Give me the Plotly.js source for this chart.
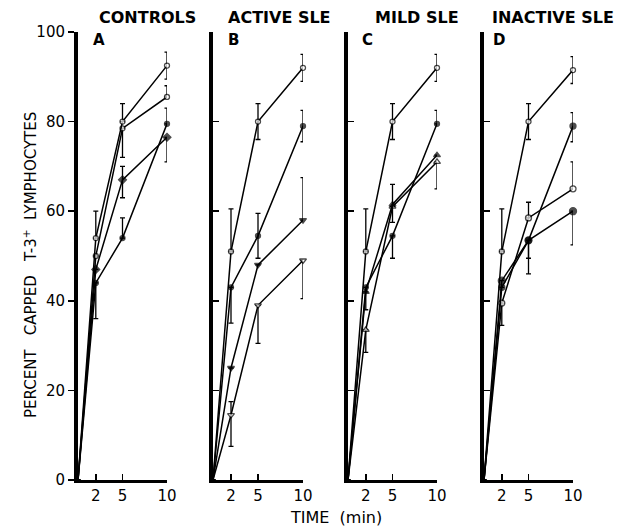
<!DOCTYPE html>
<html>
<head>
<meta charset="utf-8">
<script src="https://cdn.plot.ly/plotly-3.0.1.min.js"></script>
<style>
html,body{margin:0;padding:0;background:#fff;}
#chart{width:619px;height:526px;}
</style>
</head>
<body>
<div id="chart"></div>
<script>
// ---- data ----
const times = [0, 2, 5, 10];
const xTickVals = [2, 5, 10];
const xTickText = ['2', '5', '10'];
const yTickVals = [0, 20, 40, 60, 80, 100];
const yTickText = ['0', '20', '40', '60', '80', '100'];
const panelTitles = ['CONTROLS', 'ACTIVE SLE', 'MILD SLE', 'INACTIVE SLE'];
const panelLetters = ['A', 'B', 'C', 'D'];

// Panel A: controls
const aOpen1 = [0, 54, 80, 92.5];
const aOpen1Up = [0, 6, 4, 3];
const aOpen1Dn = [0, 0, 0, 3];
const aOpen2 = [0, 50, 78.5, 85.5];
const aOpen2Up = [0, 0, 0, 2.5];
const aOpen2Dn = [0, 0, 6.5, 0];
const aDiam = [0, 47, 67, 76.5];
const aDiamUp = [0, 0, 3, 0];
const aDiamDn = [0, 0, 4, 5.5];
const aFill = [0, 44, 54, 79.5];
const aFillUp = [0, 0, 4.5, 3.5];
const aFillDn = [0, 8, 0, 0];

// Panel B: active SLE
const bOpen = [0, 51, 80, 92];
const bOpenUp = [0, 9.5, 4, 3];
const bOpenDn = [0, 0, 4, 3];
const bFill = [0, 43, 54.5, 79];
const bFillUp = [0, 0, 5, 3.5];
const bFillDn = [0, 8, 5, 3.5];
const bTri = [0, 25, 48, 58];
const bTriUp = [0, 0, 0, 9.5];
const bTriDn = [0, 0, 0, 0];
const bTriOpen = [0, 14.5, 39, 49];
const bTriOpenUp = [0, 3, 0, 0];
const bTriOpenDn = [0, 7, 8.5, 8.5];

// Panel C: mild SLE
const cOpen = [0, 51, 80, 92];
const cOpenUp = [0, 9.5, 4, 3];
const cOpenDn = [0, 0, 4, 3];
const cFill = [0, 43, 54.5, 79.5];
const cFillUp = [0, 0, 0, 3];
const cFillDn = [0, 5, 5, 0];
const cTri = [0, 42, 61.5, 72.5];
const cTriUp = [0, 0, 4.5, 0];
const cTriDn = [0, 0, 4, 0];
const cTriOpen = [0, 33.5, 61, 71];
const cTriOpenUp = [0, 0, 0, 0];
const cTriOpenDn = [0, 5, 0, 6];

// Panel D: inactive SLE
const dOpen = [0, 51, 80, 91.5];
const dOpenUp = [0, 9.5, 4, 3];
const dOpenDn = [0, 0, 4, 3];
const dFill = [0, 43, 53.5, 79];
const dFillUp = [0, 0, 0, 3];
const dFillDn = [0, 0, 4, 3.5];
const dOpen2 = [0, 39.5, 58.5, 65];
const dOpen2Up = [0, 0, 3.5, 6];
const dOpen2Dn = [0, 5, 0, 0];
const dFillBig = [0, 44.5, 53.5, 60];
const dFillBigUp = [0, 0, 0, 0];
const dFillBigDn = [0, 0, 7.5, 7.5];

// ---- build ----
function mk(axisIdx, y, up, dn, symbol, open, size) {
  const sfx = axisIdx === 1 ? '' : String(axisIdx);
  return {
    type: 'scatter', mode: 'lines+markers',
    x: times, y: y,
    xaxis: 'x' + sfx, yaxis: 'y' + sfx,
    line: {color: '#000', width: 1.5},
    marker: {
      symbol: symbol,
      size: times.map((t) => t === 0 ? 0 : size),
      color: open ? '#fff' : '#000',
      line: {color: '#000', width: 1.3}
    },
    error_y: {type: 'data', symmetric: false, array: up, arrayminus: dn,
              color: '#000', thickness: 1.3, width: 2.5},
    cliponaxis: false,
    showlegend: false, hoverinfo: 'skip'
  };
}

const traces = [
  mk(1, aFill, aFillUp, aFillDn, 'circle', false, 5),
  mk(1, aDiam, aDiamUp, aDiamDn, 'diamond', false, 6),
  mk(1, aOpen2, aOpen2Up, aOpen2Dn, 'circle', true, 5),
  mk(1, aOpen1, aOpen1Up, aOpen1Dn, 'circle', true, 5),

  mk(2, bTriOpen, bTriOpenUp, bTriOpenDn, 'triangle-down', true, 6),
  mk(2, bTri, bTriUp, bTriDn, 'triangle-down', false, 6),
  mk(2, bFill, bFillUp, bFillDn, 'circle', false, 5),
  mk(2, bOpen, bOpenUp, bOpenDn, 'circle', true, 5),

  mk(3, cTriOpen, cTriOpenUp, cTriOpenDn, 'triangle-up', true, 6),
  mk(3, cTri, cTriUp, cTriDn, 'triangle-up', false, 6),
  mk(3, cFill, cFillUp, cFillDn, 'circle', false, 5),
  mk(3, cOpen, cOpenUp, cOpenDn, 'circle', true, 5),

  mk(4, dFillBig, dFillBigUp, dFillBigDn, 'circle', false, 7),
  mk(4, dOpen2, dOpen2Up, dOpen2Dn, 'circle', true, 6),
  mk(4, dFill, dFillUp, dFillDn, 'circle', false, 6),
  mk(4, dOpen, dOpenUp, dOpenDn, 'circle', true, 5)
];

const W = 619, H = 526;
const panelX = [[78, 167], [213, 303], [348, 437], [484, 573]];
const yTop = 32, yBot = 480;
const yDomain = [(H - yBot) / H, (H - yTop) / H];
const tickFont = {family: 'DejaVu Sans, sans-serif', size: 15, color: '#000'};

const layout = {
  width: W, height: H,
  margin: {l: 0, r: 0, t: 0, b: 0},
  paper_bgcolor: '#fff', plot_bgcolor: 'rgba(0,0,0,0)',
  showlegend: false,
  annotations: []
};

panelX.forEach((px, i) => {
  const sfx = i === 0 ? '' : String(i + 1);
  layout['xaxis' + sfx] = {
    domain: [px[0] / W, px[1] / W], range: [0, 10],
    anchor: 'y' + sfx,
    showline: true, linecolor: '#000', linewidth: 3,
    showgrid: false, zeroline: false,
    ticks: 'inside', ticklen: 6, tickwidth: 1.5, tickcolor: '#000',
    tickvals: xTickVals, ticktext: xTickText,
    tickfont: tickFont, fixedrange: true
  };
  layout['yaxis' + sfx] = {
    domain: yDomain, range: [0, 100],
    anchor: 'x' + sfx,
    showline: true, linecolor: '#000', linewidth: 4,
    showgrid: false, zeroline: false,
    ticks: i === 0 ? 'outside' : 'inside', ticklen: 6, tickwidth: 1.5, tickcolor: '#000',
    tickvals: yTickVals, ticktext: yTickText,
    showticklabels: i === 0,
    tickfont: tickFont, fixedrange: true
  };
});

const titleCenters = [147, 279, 417, 553];
const letterCenters = [99, 233, 367, 499];
panelTitles.forEach((t, i) => {
  layout.annotations.push({
    text: '<b>' + t + '</b>', xref: 'paper', yref: 'paper',
    x: titleCenters[i] / W, y: (H - 18) / H, xanchor: 'center', yanchor: 'middle',
    showarrow: false, font: {family: 'DejaVu Sans, sans-serif', size: 16, color: '#000'}
  });
  layout.annotations.push({
    text: '<b>' + panelLetters[i] + '</b>', xref: 'paper', yref: 'paper',
    x: letterCenters[i] / W, y: (H - 40) / H, xanchor: 'center', yanchor: 'middle',
    showarrow: false, font: {family: 'DejaVu Sans, sans-serif', size: 15, color: '#000'}
  });
});
layout.annotations.push({
  text: 'TIME  (min)', xref: 'paper', yref: 'paper',
  x: 336 / W, y: (H - 517) / H, xanchor: 'center', yanchor: 'middle',
  showarrow: false, font: {family: 'DejaVu Sans, sans-serif', size: 16, color: '#000'}
});
layout.annotations.push({
  text: 'PERCENT   CAPPED   T-3<sup>+</sup>  LYMPHOCYTES', xref: 'paper', yref: 'paper',
  x: 30 / W, y: (H - 265) / H, xanchor: 'center', yanchor: 'middle', textangle: -90,
  showarrow: false, font: {family: 'DejaVu Sans, sans-serif', size: 15, color: '#000'}
});

Plotly.newPlot('chart', traces, layout, {staticPlot: true, displayModeBar: false});
</script>
</body>
</html>
